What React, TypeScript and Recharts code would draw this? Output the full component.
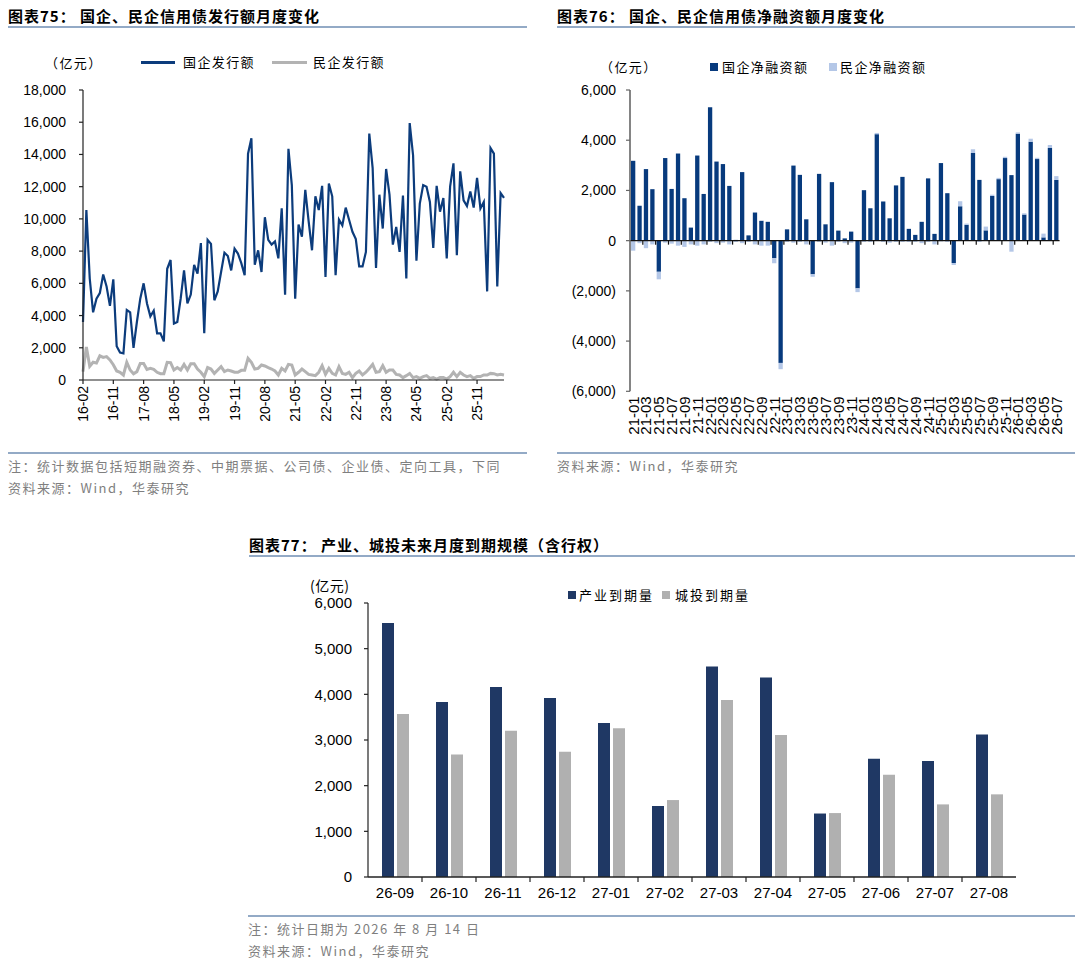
import React from 'react';
import {
  LineChart,
  Line,
  BarChart,
  Bar,
  XAxis,
  YAxis,
  ReferenceLine,
} from 'recharts';

// 字体
const LATIN = "'Liberation Sans', Arial, 'Noto Sans CJK SC', sans-serif";
const CJK = "'Noto Sans CJK SC', 'Liberation Sans', sans-serif";

// 配色
const SOE_BLUE = '#0c3c7c';
const PVT_GRAY = '#b3b3b3';
const NET_DARK = '#073a7d';
const NET_LIGHT = '#b4c7e7';
const IND_NAVY = '#1f3864';
const LGFV_GRAY = '#b0b0b0';
const RULE = '#93aac6';
const NOTE = '#7f7f7f';

// 月份标签 yy-mm
function buildMonths(year: number, month: number, count: number) {
  const out: string[] = [];
  for (let i = 0; i < count; i++) {
    const k = month - 1 + i;
    const yy = year + Math.floor(k / 12);
    const mm = (k % 12) + 1;
    out.push(`${String(yy).slice(2)}-${String(mm).padStart(2, '0')}`);
  }
  return out;
}

// ---------- 图表75：国企、民企信用债发行额（亿元），16-02 ~ 26-07 ----------
const issueMonths = buildMonths(2016, 2, 126);

const soeIssue = [
  3600, 10550, 6300, 4200, 5050, 5400, 6550, 5800, 4600, 6250,
  2100, 1700, 1650, 4350, 4200, 2000, 3600, 5050, 6000, 4750,
  3950, 4300, 2900, 2900, 2400, 6900, 7450, 3500, 3600, 5050,
  6800, 4750, 5300, 7150, 6600, 8500, 2900, 8700, 8450, 4950,
  5500, 6700, 7900, 7700, 6800, 8150, 7850, 7250, 6500, 14050,
  15000, 7150, 8050, 6700, 10100, 8700, 8400, 8600, 7550, 10650,
  5300, 14350, 12100, 5050, 9650, 8900, 11800, 9850, 8050, 11400,
  10550, 12050, 6400, 12200, 11400, 6500, 9950, 9600, 10700, 9950,
  9200, 8750, 7050, 7050, 7950, 15300, 13150, 6950, 11500, 9400,
  13100, 11500, 8400, 9500, 7950, 11450, 6300, 15950, 13950, 7400,
  10950, 12100, 12000, 11050, 8200, 12050, 10450, 11300, 7550, 12000,
  13450, 7750, 12950, 11150, 10800, 11700, 10700, 12550, 10650, 11050,
  5500, 14400, 14050, 5800, 11600, 11300,
];

const pvtIssue = [
  520, 2050, 850, 1100, 1050, 1500, 1400, 1450, 1250, 950,
  560, 480, 310, 1100, 620, 390, 520, 1030, 1030, 660,
  720, 660, 480, 390, 390, 1100, 1080, 620, 770, 620,
  970, 620, 1010, 1010, 680, 480, 210, 770, 680, 410,
  620, 830, 520, 620, 560, 480, 480, 600, 600, 1340,
  1100, 680, 720, 930, 870, 770, 680, 560, 310, 720,
  560, 970, 930, 310, 480, 680, 520, 350, 310, 270,
  480, 890, 350, 720, 410, 310, 830, 410, 350, 480,
  150, 410, 560, 310, 480, 720, 970, 480, 520, 890,
  480, 620, 620, 350, 310, 150, 270, 410, 150, 210,
  100, 210, 270, 100, 150, 60, 150, 150, 60, 210,
  480, 210, 480, 310, 210, 270, 100, 210, 210, 310,
  310, 410, 390, 310, 350, 310,
];

const issueTicks = [0, 2000, 4000, 6000, 8000, 10000, 12000, 14000, 16000, 18000];

// ---------- 图表76：国企、民企信用债净融资额（亿元），21-01 ~ 26-07 ----------
const netMonths = buildMonths(2021, 1, 67);

const soeNet = [
  3180, 1390, 2850, 2050, -1240, 3290, 2060, 3470, 1690, 520,
  3390, 1860, 5310, 3150, 3050, 2180, 30, 2730, 210, 1120,
  790, 750, -700, -4870, 450, 2990, 2620, 850, -1340, 2660,
  650, 2330, 400, 90, 360, -1900, 2010, 1290, 4240, 1560,
  890, 2200, 2540, 470, 230, 750, 2480, 270, 3090, 1890,
  -890, 1370, 630, 3490, 2420, 410, 1780, 2450, 3290, 2610,
  4260, 1040, 3940, 3250, 130, 3690, 2420,
];

const pvtNet = [
  -400, -100, -300, -150, -300, -80, -120, -200, -250, -150,
  -200, -150, -50, -100, -80, -150, -50, -100, -50, -150,
  -200, -200, -200, -250, -50, -80, -50, -150, -100, -50,
  -80, -200, -50, -100, -80, -150, -50, -50, 50, -50,
  -80, -50, -50, -50, -50, -100, -50, -150, -30, -50,
  -80, 200, 50, 150, -50, 150, 50, 50, 50, -440,
  50, 50, 120, 50, 150, 120, 150,
];

const netTicks = [-6000, -4000, -2000, 0, 2000, 4000, 6000];

// ---------- 图表77：产业、城投未来月度到期规模（亿元） ----------
const maturityMonths = [
  '26-09', '26-10', '26-11', '26-12', '27-01', '27-02',
  '27-03', '27-04', '27-05', '27-06', '27-07', '27-08',
];
const industryDue = [5560, 3830, 4160, 3920, 3370, 1555, 4610, 4370, 1390, 2590, 2540, 3120];
const lgfvDue = [3570, 2680, 3200, 2740, 3260, 1685, 3875, 3110, 1400, 2240, 1590, 1810];
const maturityTicks = [0, 1000, 2000, 3000, 4000, 5000, 6000];

const issueData = issueMonths.map((m, i) => ({ m, soe: soeIssue[i], pvt: pvtIssue[i] }));
const netData = netMonths.map((m, i) => ({ m, soe: soeNet[i], pvt: pvtNet[i] }));
const maturityData = maturityMonths.map((m, i) => ({
  m,
  ind: industryDue[i],
  lgfv: lgfvDue[i],
}));

const thousands = (v: number) => v.toLocaleString('en-US');
const bracketed = (v: number) =>
  v < 0 ? `(${Math.abs(v).toLocaleString('en-US')})` : v.toLocaleString('en-US');

// 竖排日期标签（自下而上）
const RotatedTick = ({ x, y, payload, fontSize }: any) => (
  <g transform={`translate(${x},${y})`}>
    <text
      transform="rotate(-90)"
      textAnchor="end"
      dy="0.36em"
      fontSize={fontSize}
      fontFamily={LATIN}
      fill="#000"
    >
      {payload.value}
    </text>
  </g>
);

// 零轴：一条线加上分隔刻度
const tickedZeroLine =
  (bands: number, every: number, len: number, color: string, width: number) =>
  (props: any) => {
    const { x1, x2, y1 } = props;
    if (x1 == null || x2 == null || y1 == null) return <g />;
    const step = (x2 - x1) / bands;
    const marks = [];
    for (let k = every; k < bands; k += every) {
      const x = x1 + k * step;
      marks.push(<line key={k} x1={x} x2={x} y1={y1} y2={y1 + len} stroke={color} strokeWidth={1.2} />);
    }
    return (
      <g>
        <line x1={x1} x2={x2} y1={y1} y2={y1} stroke={color} strokeWidth={width} />
        {marks}
      </g>
    );
  };

const Title = ({ left, top, width, children }: any) => (
  <>
    <div
      style={{
        position: 'absolute',
        left,
        top,
        fontFamily: CJK,
        fontWeight: 700,
        fontSize: 15,
        letterSpacing: 1,
        lineHeight: '18px',
        color: '#000',
        whiteSpace: 'nowrap',
      }}
    >
      {children}
    </div>
    <div style={{ position: 'absolute', left, top: top + 19, width, height: 1.5, background: RULE }} />
  </>
);

const Rule = ({ left, top, width }: any) => (
  <div style={{ position: 'absolute', left, top, width, height: 2, background: RULE }} />
);

const Note = ({ left, top, children }: any) => (
  <div
    style={{
      position: 'absolute',
      left,
      top,
      fontFamily: CJK,
      fontSize: 13,
      letterSpacing: 1.5,
      lineHeight: '16px',
      color: NOTE,
      whiteSpace: 'nowrap',
    }}
  >
    {children}
  </div>
);

const Label = ({ left, top, size = 13, spacing = 1.4, children }: any) => (
  <div
    style={{
      position: 'absolute',
      left,
      top,
      fontFamily: CJK,
      fontSize: size,
      letterSpacing: spacing,
      lineHeight: '16px',
      color: '#000',
      whiteSpace: 'nowrap',
    }}
  >
    {children}
  </div>
);

const Swatch = ({ left, top, w, h, color }: any) => (
  <div style={{ position: 'absolute', left, top, width: w, height: h, background: color }} />
);

const axisTick = { fontSize: 14, fontFamily: LATIN, fill: '#000' };

export default function App() {
  return (
    <div
      style={{
        position: 'absolute',
        left: 0,
        top: 0,
        width: 1080,
        height: 971,
        background: '#fff',
        overflow: 'hidden',
      }}
    >
      {/* 图表75 */}
      <Title left={8} top={7} width={519}>
        图表75： 国企、民企信用债发行额月度变化
      </Title>
      <Label left={45} top={55}>（亿元）</Label>
      <Swatch left={141} top={61} w={34} h={2.5} color={SOE_BLUE} />
      <Label left={183} top={54}>国企发行额</Label>
      <Swatch left={272} top={60.5} w={35} h={3.5} color={PVT_GRAY} />
      <Label left={313} top={54}>民企发行额</Label>

      <div style={{ position: 'absolute', left: 0, top: 0 }}>
        <LineChart
          width={540}
          height={450}
          data={issueData}
          margin={{ top: 90, right: 36, bottom: 30, left: 23 }}
        >
          <XAxis
            dataKey="m"
            interval={8}
            height={40}
            tickSize={4}
            tickMargin={2}
            axisLine={{ stroke: '#222', strokeWidth: 1.2 }}
            tickLine={{ stroke: '#222', strokeWidth: 1.2 }}
            tick={<RotatedTick fontSize={14} />}
          />
          <YAxis
            width={60}
            domain={[0, 18000]}
            ticks={issueTicks}
            tickFormatter={thousands}
            tickSize={4}
            tickMargin={13}
            axisLine={{ stroke: '#222', strokeWidth: 1.2 }}
            tickLine={{ stroke: '#222', strokeWidth: 1.2 }}
            tick={axisTick}
          />
          <Line
            type="linear"
            dataKey="pvt"
            stroke={PVT_GRAY}
            strokeWidth={3}
            dot={false}
            isAnimationActive={false}
          />
          <Line
            type="linear"
            dataKey="soe"
            stroke={SOE_BLUE}
            strokeWidth={2.2}
            dot={false}
            isAnimationActive={false}
          />
        </LineChart>
      </div>

      <Rule left={8} top={452} width={519} />
      <Note left={8} top={458}>注：统计数据包括短期融资券、中期票据、公司债、企业债、定向工具，下同</Note>
      <Note left={8} top={480}>资料来源：Wind，华泰研究</Note>

      {/* 图表76 */}
      <Title left={557} top={7} width={518}>
        图表76： 国企、民企信用债净融资额月度变化
      </Title>
      <Label left={600} top={59}>（亿元）</Label>
      <Swatch left={710} top={63} w={8} h={8} color={NET_DARK} />
      <Label left={722} top={59}>国企净融资额</Label>
      <Swatch left={829} top={63} w={8} h={8} color={NET_LIGHT} />
      <Label left={840} top={59}>民企净融资额</Label>

      <div style={{ position: 'absolute', left: 540, top: 0 }}>
        <BarChart
          width={540}
          height={460}
          data={netData}
          stackOffset="sign"
          barSize={4.3}
          margin={{ top: 90, right: 20.4, bottom: 13.7, left: 20 }}
        >
          <XAxis
            dataKey="m"
            interval={1}
            height={55}
            axisLine={false}
            tickLine={false}
            tickSize={0}
            tickMargin={5}
            tick={<RotatedTick fontSize={15} />}
          />
          <YAxis
            width={70}
            domain={[-6000, 6000]}
            ticks={netTicks}
            tickFormatter={bracketed}
            tickSize={4}
            tickMargin={10}
            axisLine={{ stroke: '#666', strokeWidth: 1.6 }}
            tickLine={{ stroke: '#666', strokeWidth: 1.2 }}
            tick={axisTick}
          />
          <Bar dataKey="soe" stackId="net" fill={NET_DARK} isAnimationActive={false} />
          <Bar dataKey="pvt" stackId="net" fill={NET_LIGHT} isAnimationActive={false} />
          <ReferenceLine y={0} shape={tickedZeroLine(67, 2, 4, '#111', 1.4)} />
        </BarChart>
      </div>

      <Rule left={557} top={452} width={518} />
      <Note left={557} top={458}>资料来源：Wind，华泰研究</Note>

      {/* 图表77 */}
      <Title left={249} top={536} width={826}>
        图表77： 产业、城投未来月度到期规模（含行权）
      </Title>
      <Label left={310} top={577} size={14} spacing={0.5}>(亿元)</Label>
      <Swatch left={568} top={591} w={8} h={8} color={IND_NAVY} />
      <Label left={579} top={587} size={13} spacing={2}>产业到期量</Label>
      <Swatch left={662} top={591} w={8} h={8} color={LGFV_GRAY} />
      <Label left={675} top={587} size={13} spacing={2}>城投到期量</Label>

      <div style={{ position: 'absolute', left: 240, top: 560 }}>
        <BarChart
          width={840}
          height={370}
          data={maturityData}
          barSize={12}
          barGap={3}
          margin={{ top: 43, right: 64, bottom: 23, left: 58 }}
        >
          <XAxis
            dataKey="m"
            height={30}
            axisLine={false}
            tickLine={false}
            tickSize={5}
            tickMargin={5}
            tick={{ fontSize: 15, fontFamily: LATIN, fill: '#000' }}
          />
          <YAxis
            width={70}
            domain={[0, 6000]}
            ticks={maturityTicks}
            tickFormatter={thousands}
            tickSize={4}
            tickMargin={12}
            axisLine={{ stroke: '#222', strokeWidth: 1.2 }}
            tickLine={{ stroke: '#222', strokeWidth: 1.2 }}
            tick={{ fontSize: 15, fontFamily: LATIN, fill: '#000' }}
          />
          <Bar dataKey="ind" fill={IND_NAVY} isAnimationActive={false} />
          <Bar dataKey="lgfv" fill={LGFV_GRAY} isAnimationActive={false} />
          <ReferenceLine y={0} shape={tickedZeroLine(12, 1, 5, '#222', 1.4)} />
        </BarChart>
      </div>

      <Rule left={248} top={915} width={827} />
      <Note left={248} top={921}>注：统计日期为 2026 年 8 月 14 日</Note>
      <Note left={248} top={943}>资料来源：Wind，华泰研究</Note>
    </div>
  );
}
